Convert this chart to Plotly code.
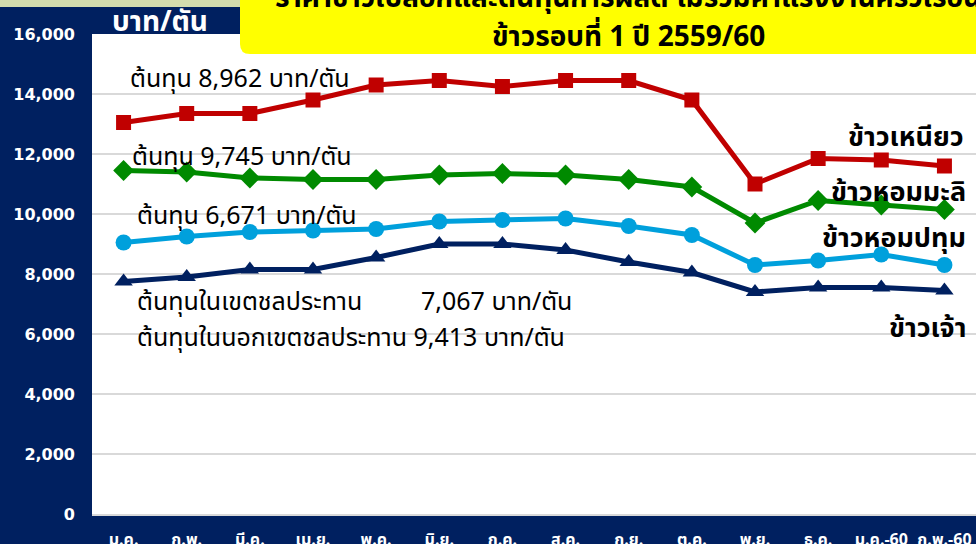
import plotly.graph_objects as go

months = ["ม.ค.", "ก.พ.", "มี.ค.", "เม.ย.", "พ.ค.", "มิ.ย.", "ก.ค.", "ส.ค.", "ก.ย.", "ต.ค.", "พ.ย.", "ธ.ค.", "ม.ค.-60", "ก.พ.-60"]
sticky = [13050, 13350, 13350, 13800, 14300, 14450, 14250, 14450, 14450, 13800, 11000, 11850, 11800, 11600]
jasmine = [11450, 11400, 11200, 11150, 11150, 11300, 11350, 11300, 11150, 10900, 9700, 10450, 10300, 10150]
pathum = [9050, 9250, 9400, 9450, 9500, 9750, 9800, 9850, 9600, 9300, 8300, 8450, 8650, 8300]
white_rice = [7750, 7900, 8150, 8150, 8550, 9000, 9000, 8800, 8400, 8050, 7400, 7550, 7550, 7450]
y_ticks = [0, 2000, 4000, 6000, 8000, 10000, 12000, 14000, 16000]

W, H = 976, 544
L, R, T, B = 92, 0, 34, 30
PW, PH = W - L - R, H - T - B

def px(x):
    return (x - L) / PW

def py(y):
    return (H - B - y) / PH

FONT = "Tahoma, 'Noto Sans Thai', 'Noto Sans', 'DejaVu Sans', sans-serif"
NAVY_BG = "#002060"

fig = go.Figure()
series = [
    ("ข้าวเหนียว", sticky, "#C00000", "square", 15),
    ("ข้าวหอมมะลิ", jasmine, "#008A00", "diamond", 16),
    ("ข้าวหอมปทุม", pathum, "#00A0DC", "circle", 16),
    ("ข้าวเจ้า", white_rice, "#002060", "triangle-up", 16),
]
for name, vals, col, sym, sz in series:
    fig.add_trace(go.Scatter(
        x=list(range(len(months))), y=vals, mode="lines+markers", name=name,
        line=dict(color=col, width=5),
        marker=dict(symbol=sym, size=sz, color=col),
        showlegend=False, cliponaxis=False,
    ))

fig.update_layout(
    width=W, height=H,
    margin=dict(l=L, r=R, t=T, b=B, autoexpand=False),
    paper_bgcolor=NAVY_BG, plot_bgcolor="white",
    font=dict(family=FONT),
    showlegend=False,
)
fig.update_xaxes(
    range=[-0.5, 13.5], tickmode="array", tickvals=list(range(len(months))),
    ticktext=[f"<b>{m}</b>" for m in months],
    showgrid=False, zeroline=False, showline=True, linecolor="#d9d9d9", linewidth=2,
    tickfont=dict(color="white", size=16, family=FONT), ticks="", ticklabelstandoff=10,
    automargin=False,
)
fig.update_yaxes(
    range=[0, 16000], tickmode="array", tickvals=y_ticks,
    ticktext=[f"<b>{v:,}</b>" for v in y_ticks],
    showgrid=True, gridcolor="#d9d9d9", gridwidth=2, zeroline=False, showline=False,
    tickfont=dict(color="white", size=16, family="Verdana, 'DejaVu Sans', sans-serif"),
    ticks="", ticklabelstandoff=16, automargin=False,
)

# top pale strip
fig.add_shape(type="rect", xref="paper", yref="paper", x0=px(0), x1=px(W), y0=py(7), y1=py(0),
              fillcolor="#d3dcae", line_width=0, layer="below")

# yellow title box with rounded bottom-left corner
r = 10
x0, y0, x1, y1 = 240, -5, 990, 54
path = (f"M {px(x0)},{py(y0)} L {px(x1)},{py(y0)} L {px(x1)},{py(y1)} "
        f"L {px(x0 + r)},{py(y1)} Q {px(x0)},{py(y1)} {px(x0)},{py(y1 - r)} Z")
fig.add_shape(type="path", xref="paper", yref="paper", path=path,
              fillcolor="#FFFF00", line_width=0, layer="above")

def ann(text, x, y, size, color="black", bold=False, xanchor="left", family=FONT):
    t = f"<b>{text}</b>" if bold else text
    fig.add_annotation(text=t, xref="paper", yref="paper", x=px(x), y=py(y),
                       xanchor=xanchor, yanchor="middle", showarrow=False,
                       font=dict(size=size, color=color, family=family))

ann("ราคาข้าวเปลือกและต้นทุนการผลิต ไม่รวมค่าแรงงานครัวเรือน", 628, -2, 28, bold=True, xanchor="center")
ann("ข้าวรอบที่ 1 ปี 2559/60", 628, 38, 28, bold=True, xanchor="center")
ann("บาท/ตัน", 110, 22, 28, color="white", bold=True)

ann("ต้นทุน 8,962 บาท/ตัน", 128, 79, 25)
ann("ต้นทุน 9,745 บาท/ตัน", 130, 157, 25)
ann("ต้นทุน 6,671 บาท/ตัน", 135, 216, 25)
ann("ต้นทุนในเขตชลประทาน", 135, 302, 25)
ann("7,067 บาท/ตัน", 419, 302, 25)
ann("ต้นทุนในนอกเขตชลประทาน 9,413 บาท/ตัน", 135, 338, 25)

ann("ข้าวเหนียว", 966, 137, 27, bold=True, xanchor="right")
ann("ข้าวหอมมะลิ", 968, 192, 27, bold=True, xanchor="right")
ann("ข้าวหอมปทุม", 968, 238, 27, bold=True, xanchor="right")
ann("ข้าวเจ้า", 968, 329, 27, bold=True, xanchor="right")

fig.write_html("out.html", config={"displayModeBar": False},
               post_script="document.body.style.margin='0';document.body.style.overflow='hidden';")
